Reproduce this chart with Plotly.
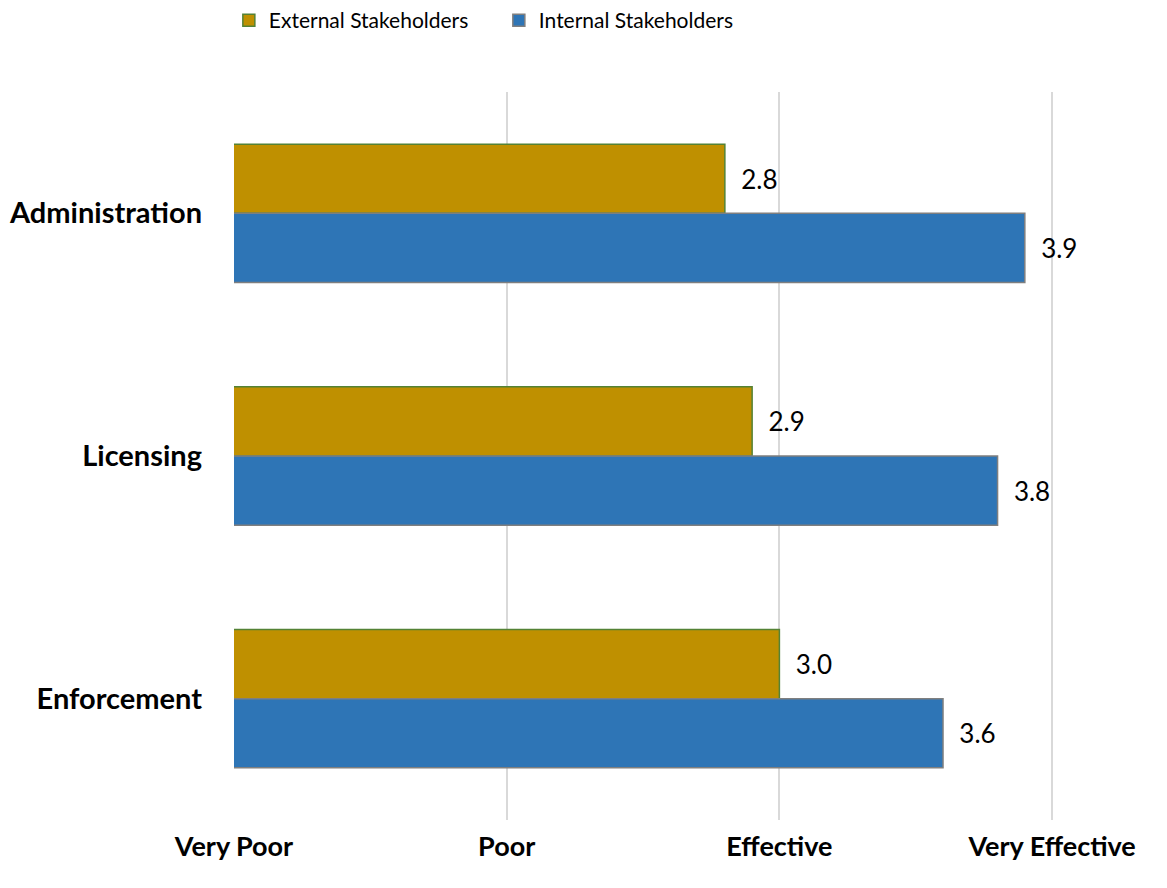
import plotly.graph_objects as go

categories = ["Administration", "Licensing", "Enforcement"]
external = [2.8, 2.9, 3.0]
internal = [3.9, 3.8, 3.6]
tick_vals = [1, 2, 3, 4]
tick_labels = ["Very Poor", "Poor", "Effective", "Very Effective"]

FONT = "Lato"
PAD = "\u00a0\u00a0"

fig = go.Figure()
fig.add_trace(go.Bar(
    y=categories, x=external, orientation="h", name="External Stakeholders",
    marker=dict(color="#BF9000", line=dict(color="#548235", width=1.5)),
    text=[PAD + f"{v:.1f}" for v in external], textposition="outside",
    textfont=dict(size=26, color="black", family=FONT),
))
fig.add_trace(go.Bar(
    y=categories, x=internal, orientation="h", name="Internal Stakeholders",
    marker=dict(color="#2E75B6", line=dict(color="#7F7F7F", width=1.5)),
    text=[PAD + f"{v:.1f}" for v in internal], textposition="outside",
    textfont=dict(size=26, color="black", family=FONT),
))

fig.update_layout(
    width=1167, height=888,
    margin=dict(l=234, r=74, t=92, b=68, autoexpand=False),
    paper_bgcolor="white", plot_bgcolor="white",
    barmode="group", bargap=0.43, bargroupgap=0,
    font=dict(family=FONT, color="black"),
    uniformtext=dict(mode=False),
    legend=dict(orientation="h", x=-0.006, xanchor="left", y=1.0, yref="container",
                yanchor="top", font=dict(size=21, family=FONT), itemwidth=30,
                tracegroupgap=0, entrywidth=225),
    xaxis=dict(range=[1, 4.15], tickvals=tick_vals, ticktext=tick_labels,
               showgrid=True, gridcolor="#D9D9D9", gridwidth=1.5, zeroline=False,
               showline=False, ticks="", ticklabelstandoff=8, automargin=False,
               tickfont=dict(size=27, family=FONT, weight="bold")),
    yaxis=dict(autorange="reversed", showgrid=False, showline=False, ticks="",
               ticklabelstandoff=31, automargin=False,
               tickfont=dict(size=29, family=FONT, weight="bold")),
)

fig.write_html("out.html")
